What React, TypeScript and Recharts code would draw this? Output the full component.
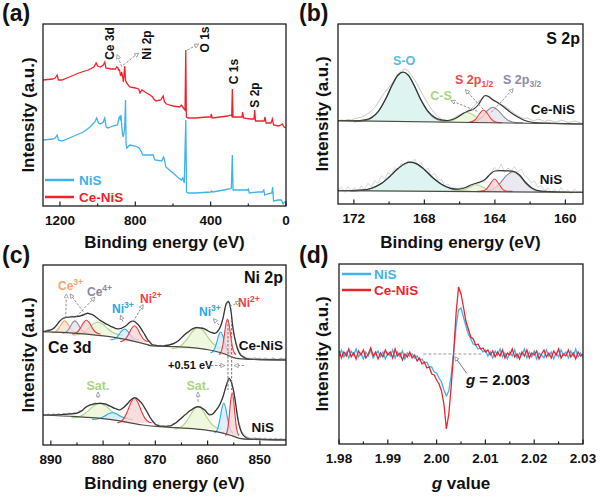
import React from "react";
import { ComposedChart, Line, Area, XAxis, YAxis, ReferenceLine } from "recharts";

const FONT = "Arial, 'Liberation Sans', Helvetica, sans-serif";
const BLUE = "#3fb2ea";
const RED = "#f0232b";
const ENV = "#333333";
const BASE = "#4d4a40";
const RAW = "#b4b4b4";

// ---------- (a) XPS survey ----------
const SURVEY_CENIS: [number, number][] = [
  [1290, 126], [1240, 127], [1225, 128], [1215, 131], [1208, 126], [1190, 126], [1150, 129], [1100, 133],
  [1050, 136], [1020, 139], [1008, 143], [1000, 140], [985, 139], [970, 141], [962, 144], [956, 138],
  [930, 137], [905, 137], [899, 139], [892, 138], [889, 136], [884, 136], [878, 130], [872, 134],
  [866, 128], [863, 124], [858, 136], [856, 140], [852, 126], [846, 123], [830, 119], [800, 118],
  [782, 117], [775, 113], [765, 116], [740, 113], [722, 111], [708, 109], [702, 107], [690, 105],
  [665, 106], [652, 110], [645, 104], [635, 102], [600, 100], [565, 99], [555, 101], [545, 98],
  [536, 96], [532, 156], [529, 89], [520, 88], [480, 88], [420, 89], [400, 89], [397, 92], [392, 88],
  [350, 89], [310, 90], [292, 91], [288, 90], [285, 117], [281, 89], [260, 89], [234, 89], [230, 94],
  [226, 88], [190, 87], [170, 87], [166, 96], [162, 85], [130, 85], [116, 85], [111, 89], [106, 83],
  [80, 83], [72, 87], [66, 81], [40, 80], [28, 81], [20, 82], [10, 79], [0, 78],
];
const SURVEY_NIS: [number, number][] = [
  [1290, 66], [1240, 67], [1225, 68], [1215, 71], [1208, 66], [1190, 65], [1150, 68], [1100, 72],
  [1076, 74], [1040, 79], [1015, 84], [1005, 88], [995, 83], [985, 82], [970, 84], [962, 88], [955, 79],
  [945, 78], [920, 80], [895, 81], [885, 89], [880, 87], [876, 91], [872, 80], [868, 72], [864, 69],
  [860, 73], [856, 80], [852, 106], [849, 62], [845, 58], [830, 61], [800, 60], [780, 58], [770, 55],
  [760, 51], [740, 51], [705, 51], [700, 48], [695, 46], [660, 45], [650, 49], [645, 46], [638, 39],
  [600, 33], [570, 28], [555, 26], [548, 28], [540, 23], [532, 86], [528, 14], [520, 13], [480, 13],
  [400, 14], [395, 15], [390, 14], [330, 16], [300, 17], [290, 18], [285, 51], [281, 16], [260, 16],
  [215, 16], [205, 16], [200, 17], [195, 13], [150, 14], [125, 14], [118, 16], [113, 11], [100, 12],
  [75, 13], [71, 19], [66, 5], [40, 6], [25, 6], [15, 2], [8, 4], [0, 4],
];
const A_MAJOR = [1200, 800, 400, 0];
const A_MINOR = [1000, 600, 200];

// ---------- (b) S 2p ----------
const B_RAW_START = 172.9;
const B_RAW_STEP = -0.189;
const B_CENIS_RAW = [
  83.3, 84, 83.5, 84.5, 84, 85.5, 86, 87, 88.5, 90.5,
  93, 96.5, 101, 106.5, 111.5, 115.5, 120, 124.5, 129, 133,
  135, 133.5, 129, 124, 118.5, 112, 106, 100.5, 95, 91,
  87.5, 85, 84, 83.5, 84.5, 86.5, 88.5, 90, 91.5, 93,
  95, 98.5, 102, 105, 108, 107.5, 105, 103.5, 101.5, 99.5,
  98, 95.5, 93, 90.5, 88, 86.5, 85.5, 86, 84, 83.5,
  85, 84, 82.5, 84, 83.5, 82, 82.5, 84, 83, 81.5,
  82, 83, 82, 81,
];
const B_NIS_RAW = [
  14, 16.7, 11.7, 17.3, 13.3, 16, 12.7, 18, 15, 20.7,
  16.7, 23.3, 20.7, 28.3, 25, 31.7, 28.3, 36.7, 33.3, 40.7,
  38.3, 43.3, 40, 45, 38.3, 41.7, 33.3, 36, 28.3, 30.7,
  23.3, 25, 18.3, 20, 16, 17.3, 14, 16.7, 15, 18.3,
  16.7, 20, 18.3, 23.3, 21.7, 28.3, 31.7, 36.7, 33.3, 40,
  31.7, 36, 33.3, 37.3, 31.7, 35, 28.3, 26, 20.7, 23.3,
  16.7, 18.3, 13.3, 16, 11.7, 15, 10.7, 16.7, 11.7, 14,
  10, 15, 11.7, 13.3,
];
const B_CENIS_SO: [number, number][] = [[172, 82.3], [171.3, 83.8], [171, 86], [170.6, 92.6], [170.2, 104.7], [169.8, 119.7], [169.5, 128.6], [169.2, 131.7], [168.9, 128.3], [168.6, 119], [168.2, 104], [167.8, 92.2], [167.4, 85.8], [167, 83.2], [166.5, 82.2]];
const B_CENIS_CS: [number, number][] = [[167.2, 81.5], [166.5, 83], [166.2, 85.6], [165.9, 89.3], [165.63, 91.8], [165.3, 89.8], [165, 86.4], [164.7, 83.5], [164.3, 81.7], [164, 81.5]];
const B_CENIS_P12: [number, number][] = [[165.5, 81.2], [165.1, 84.5], [164.9, 89.5], [164.64, 94], [164.4, 90], [164.2, 84.9], [163.9, 81.6], [163.6, 81.2]];
const B_CENIS_P32: [number, number][] = [[165.6, 81.2], [165, 83.4], [164.7, 87.7], [164.4, 93.8], [164.11, 96.7], [163.8, 93.4], [163.5, 87.4], [163.2, 83.2], [162.8, 81.4], [162.4, 81.2]];
const B_CENIS_FIT: [number, number][] = [[172.9, 83.3], [172, 83.2], [171.3, 84.5], [171, 86.5], [170.6, 93], [170.2, 105], [169.8, 120], [169.5, 129], [169.2, 132], [168.9, 128.7], [168.6, 119.5], [168.2, 104.5], [167.8, 93], [167.4, 86.5], [167, 84], [166.7, 83.5], [166.4, 84.5], [166.1, 87], [165.8, 90.5], [165.5, 93], [165.2, 95], [164.95, 99], [164.75, 104.5], [164.55, 108.5], [164.35, 107.5], [164.1, 104], [163.85, 101.5], [163.45, 96.5], [163.1, 91.5], [162.7, 87], [162.3, 83.5], [161.8, 81.5], [161, 80.8], [159, 80]];
const B_CENIS_BG: [number, number][] = [[172.9, 83.3], [159, 80]];

const B_NIS_SO: [number, number][] = [[172.2, 13], [171.6, 13.6], [171, 15.6], [170.5, 19.7], [170, 26.8], [169.5, 35.3], [169.1, 40.3], [168.78, 41.7], [168.4, 39.7], [168, 34.3], [167.5, 25.8], [167, 19.1], [166.5, 15.2], [165.9, 13.5], [165.4, 13]];
const B_NIS_CS: [number, number][] = [[166.4, 12.8], [165.7, 14.6], [165.4, 17.3], [165.06, 19.3], [164.7, 17.1], [164.4, 14.5], [164, 13], [163.7, 12.8]];
const B_NIS_P12: [number, number][] = [[165, 12.6], [164.75, 12.9], [164.5, 14.6], [164.3, 19.2], [164.02, 25], [163.75, 19.5], [163.55, 14.7], [163.3, 12.8], [163, 12.6]];
const B_NIS_P32: [number, number][] = [[165, 12.4], [164.7, 12.6], [164.3, 13.6], [164, 16.1], [163.7, 20.9], [163.35, 28.3], [162.98, 32.3], [162.6, 28.1], [162.25, 20.7], [161.9, 15.4], [161.5, 13], [161, 12.5], [160.6, 12.4]];
const B_NIS_FIT: [number, number][] = [[172.9, 13.3], [172.2, 13.3], [171.6, 13.8], [171, 15.8], [170.5, 19.9], [170, 27], [169.5, 35.5], [169.1, 40.5], [168.78, 41.9], [168.4, 39.9], [168, 34.5], [167.5, 26], [167, 19.4], [166.5, 15.6], [166.1, 14.8], [165.7, 16.2], [165.4, 18.7], [165.06, 20.8], [164.75, 22.5], [164.5, 25.5], [164.25, 30], [164, 33], [163.7, 33.3], [163.35, 33.2], [163, 32.8], [162.6, 29], [162.25, 21.5], [161.9, 16], [161.5, 13.2], [161, 12.5], [159, 11.7]];
const B_NIS_BG: [number, number][] = [[172.9, 13.3], [159, 11.7]];
const B_MAJOR = [172, 168, 164, 160];
const B_MINOR = [170, 166, 162];

// ---------- (c) Ni 2p / Ce 3d ----------
const C_RAW_START = 891.5;
const C_RAW_STEP = -0.5;
const C_CENIS_RAW = [
  113.8, 113.2, 115.3, 114.6, 117.2, 118.6, 123.1, 125.4, 126.6, 128.2,
  127.4, 128.9, 127.9, 129.3, 128.6, 130.4, 130.2, 132.3, 131, 130.8,
  128.1, 126.8, 124.1, 123.3, 120.6, 120.5, 118.1, 117.9, 116, 116.7,
  116.4, 118.6, 119.4, 122.3, 123.2, 123.9, 121, 118.9, 113.8, 110.8,
  105.1, 103.3, 99.7, 100.3, 99, 99.6, 98.6, 100.1, 99.6, 101.3,
  101.4, 103.1, 104.3, 107.7, 109.2, 112.6, 113.4, 116, 116.2, 117.8,
  116.8, 117.3, 115.6, 114.8, 112.6, 112.8, 111.6, 115, 118.1, 128,
  139.5, 143.8, 134.6, 112.5, 100.6, 93.7, 89.8, 88.3, 86.9, 86.8,
  86.4, 87.2, 86.1, 86.9, 85.8, 87, 86.2, 85.6, 87.1, 86,
  85.4, 86.8, 85.9, 86.5,
];
const C_NIS_RAW = [
  30.8, 29.4, 31.2, 29.6, 31.1, 30, 31.4, 29.8, 31.6, 30.3,
  32, 30.8, 32.3, 31.5, 34.1, 34, 37.6, 38.2, 40.6, 40.2,
  42.1, 41, 42.3, 40.7, 41.5, 39.1, 39, 36.5, 36.7, 34.8,
  36.5, 37.4, 41, 43.2, 46.2, 46.7, 47, 43.8, 41.6, 36.3,
  32.9, 27.1, 24.4, 20.3, 20.4, 18.5, 19.3, 18.2, 19.6, 19.1,
  21.7, 22, 25.4, 26.4, 29.9, 30.8, 34.3, 34.9, 37.7, 37.6,
  38.5, 36.1, 35.6, 31.6, 30.9, 30.7, 34.6, 37, 43, 48.8,
  58.9, 64.9, 64.5, 53.4, 37.2, 22.3, 13.4, 9.8, 7.9, 7,
  6.5, 7.1, 6.2, 6.9, 5.9, 6.8, 5.8, 6.6, 5.5, 6.7,
  5.6, 6.4, 5.4, 6.1,
];
const C_CENIS_FIT: [number, number][] = [[891.5, 113.3], [889.59, 116], [888.63, 121.7], [887.67, 126.7], [886.4, 128], [885.12, 128.3], [884.17, 129.3], [882.89, 131.7], [881.93, 130], [880.66, 125], [878.74, 119.3], [877.15, 116], [875.88, 118.3], [874.41, 124], [873.32, 120.7], [872.37, 113.3], [871.41, 105], [870.45, 100], [868.54, 99], [865.99, 102.7], [864.08, 111.7], [862.16, 117.3], [860.89, 116.7], [859.61, 113.3], [858.66, 111.7], [857.7, 116.7], [857.06, 126.7], [856.42, 141.7], [856.04, 143.3], [855.66, 138.3], [855.15, 116.7], [854.51, 100], [853.55, 89.3], [851.96, 85.7], [845, 85]];
const C_CENIS_BG: [number, number][] = [[891.5, 113.3], [885.1, 111.7], [878.7, 108.3], [872.4, 101.7], [870.5, 99], [866, 98.3], [859.6, 95], [857.1, 91.7], [854.5, 86.7], [852, 85.7], [845, 85]];
const C_NIS_FIT: [number, number][] = [[891.5, 30], [888, 30.5], [885.12, 31.7], [884, 34.5], [883.21, 38.3], [882, 40.8], [880.66, 41.7], [879.5, 40.8], [878.74, 39], [877.7, 36.5], [876.83, 35], [876.2, 37], [875.56, 40], [874.7, 45], [873.96, 47.3], [873.2, 45], [872.37, 40], [871.7, 34], [871.09, 28.3], [870.4, 23], [869.82, 20], [868.5, 18.6], [867.27, 19], [866, 22.5], [864.71, 28.3], [863.3, 34.5], [861.84, 38.3], [860.6, 35.3], [859.61, 30], [858.9, 31.5], [858.34, 35], [857.6, 41], [857.06, 48.3], [856.4, 60], [855.91, 66.7], [855.4, 62], [854.83, 48.3], [854.19, 25], [853.7, 15], [853.23, 10], [852.5, 7], [851.96, 6], [845, 5]];
const C_NIS_BG: [number, number][] = [[891.5, 30], [885.1, 28.3], [878.7, 25.7], [872.4, 20], [869.2, 18.3], [866, 17.3], [861.5, 15.7], [858.3, 13.3], [855.8, 10], [853.9, 6.7], [852, 5.7], [845, 5]];

const C_CENIS_CE3A: [number, number][] = [[889.75, 112.3], [889.35, 112.7], [888.79, 114.6], [888.31, 118], [887.83, 122.2], [887.35, 124.2], [886.87, 122.2], [886.39, 118], [885.91, 114.6], [885.35, 112.7], [884.95, 112.3]];
const C_CENIS_CE4: [number, number][] = [[887.8, 111.7], [887.4, 112.2], [886.84, 114.1], [886.36, 117.7], [885.88, 122], [885.4, 124.1], [884.92, 122], [884.44, 117.7], [883.96, 114.1], [883.4, 112.2], [883, 111.7]];
const C_CENIS_CE3B: [number, number][] = [[885.9, 110.9], [885.45, 111.5], [884.82, 113.5], [884.28, 117.5], [883.74, 122.4], [883.2, 125], [882.66, 122.4], [882.12, 117.5], [881.58, 113.5], [880.95, 111.5], [880.5, 110.9]];
const C_CENIS_SAT1: [number, number][] = [[885.8, 109.9], [885, 110.4], [883.88, 112.4], [882.92, 116.1], [881.96, 120.7], [881, 122.8], [880.04, 120.7], [879.08, 116.1], [878.12, 112.4], [877, 110.4], [876.2, 109.9]];
const C_CENIS_NI3A: [number, number][] = [[878.6, 105.1], [878.15, 105.5], [877.52, 107.2], [876.98, 110.4], [876.44, 114.2], [875.9, 116], [875.36, 114.2], [874.82, 110.4], [874.28, 107.2], [873.65, 105.5], [873.2, 105.1]];
const C_CENIS_NI2A: [number, number][] = [[876.7, 103.4], [876.25, 104], [875.62, 106.5], [875.08, 111.1], [874.54, 116.7], [874, 119.3], [873.46, 116.7], [872.92, 111.1], [872.38, 106.5], [871.75, 104], [871.3, 103.4]];
const C_CENIS_SAT2: [number, number][] = [[866.9, 96.2], [866.05, 96.9], [864.86, 100.3], [863.84, 106.5], [862.82, 114], [861.8, 117.5], [860.78, 114], [859.76, 106.5], [858.74, 100.3], [857.55, 96.9], [856.7, 96.2]];
const C_CENIS_NI3B: [number, number][] = [[859.45, 92.2], [859.12, 92.9], [858.67, 96.2], [858.28, 102.2], [857.89, 109.5], [857.5, 113], [857.11, 109.5], [856.72, 102.2], [856.33, 96.2], [855.88, 92.9], [855.55, 92.2]];
const C_CENIS_NI2B: [number, number][] = [[857.85, 90.4], [857.57, 91.6], [857.19, 97.1], [856.86, 107.5], [856.53, 120], [856.2, 126], [855.87, 120], [855.54, 107.5], [855.21, 97.1], [854.83, 91.6], [854.55, 90.4]];

const C_NIS_SAT1: [number, number][] = [[886.06, 27.2], [885.16, 27.6], [883.9, 29.9], [882.82, 34.2], [881.74, 39.3], [880.66, 41.7], [879.58, 39.3], [878.5, 34.2], [877.42, 29.9], [876.16, 27.6], [875.26, 27.2]];
const C_NIS_NI3A: [number, number][] = [[882.1, 25.6], [881.45, 25.8], [880.54, 26.8], [879.76, 28.8], [878.98, 31.2], [878.2, 32.3], [877.42, 31.2], [876.64, 28.8], [875.86, 26.8], [874.95, 25.8], [874.3, 25.6]];
const C_NIS_NI2A: [number, number][] = [[877.3, 22.3], [876.75, 23.1], [875.98, 26.9], [875.32, 34], [874.66, 42.6], [874, 46.7], [873.34, 42.6], [872.68, 34], [872.02, 26.9], [871.25, 23.1], [870.7, 22.3]];
const C_NIS_SAT2: [number, number][] = [[866.34, 16], [865.59, 16.8], [864.54, 20.3], [863.64, 26.8], [862.74, 34.6], [861.84, 38.3], [860.94, 34.6], [860.04, 26.8], [859.14, 20.3], [858.09, 16.8], [857.34, 16]];
const C_NIS_NI3B: [number, number][] = [[858.7, 12.3], [858.4, 13.3], [857.98, 17.9], [857.62, 26.5], [857.26, 36.8], [856.9, 41.7], [856.54, 36.8], [856.18, 26.5], [855.82, 17.9], [855.4, 13.3], [855.1, 12.3]];
const C_NIS_NI2B: [number, number][] = [[856.65, 9.5], [856.42, 10.9], [856.11, 17.6], [855.84, 30.1], [855.57, 45.2], [855.3, 52.3], [855.03, 45.2], [854.76, 30.1], [854.49, 17.6], [854.18, 10.9], [853.95, 9.5]];
const C_MAJOR = [890, 880, 870, 860, 850];
const C_MINOR = [885, 875, 865, 855];

// ---------- (d) EPR ----------
const D_START = 1.98;
const D_STEP = 0.0005;
const D_NIS = [
  88, 94, 87, 92, 86, 93, 89, 95, 87, 91,
  85, 92, 88, 94, 86, 90, 93, 87, 92, 85,
  91, 88, 94, 86, 92, 87, 93, 85, 91, 88,
  90, 86, 88, 84, 85, 81, 82, 77, 77, 72,
  71, 66, 62, 54, 48, 53, 69, 93, 118, 134,
  136, 127, 118, 110, 105, 100, 99, 95, 96, 92,
  94, 88, 92, 86, 93, 89, 95, 87, 91, 85,
  92, 88, 94, 86, 91, 89, 95, 86, 92, 87,
  93, 85, 91, 89, 86, 94, 88, 92, 85, 91,
  87, 94, 89, 92, 86, 93, 88, 95, 87, 91,
  86,
];
const D_CENIS = [
  93, 86, 92, 88, 95, 87, 91, 85, 93, 89,
  94, 86, 90, 96, 88, 92, 85, 91, 87, 94,
  89, 92, 86, 95, 88, 91, 84, 90, 87, 92,
  86, 89, 83, 86, 80, 82, 76, 77, 70, 69,
  64, 60, 53, 40, 15, 30, 58, 91, 131, 157,
  150, 137, 123, 115, 107, 105, 99, 100, 95, 96,
  92, 94, 89, 93, 87, 92, 88, 94, 86, 91,
  89, 95, 87, 90, 85, 92, 88, 94, 86, 91,
  89, 93, 85, 90, 94, 87, 91, 86, 93, 89,
  95, 86, 90, 88, 94, 87, 91, 85, 92, 88,
  90,
];
const D_MAJOR = [1.98, 1.99, 2.0, 2.01, 2.02, 2.03];
const D_MINOR = [1.985, 1.995, 2.005, 2.015, 2.025];

const pts = (a: [number, number][]) => a.map(([e, v]) => ({ e, v }));
const grid = (start: number, step: number, vals: number[]) => vals.map((v, i) => ({ e: start + step * i, v }));

function makeTick(major: number[], fmt: (v: number) => string) {
  return (props: any) => {
    const { x, y, payload } = props;
    const isMajor = major.some((m) => Math.abs(m - payload.value) < 1e-7);
    return (
      <g>
        <line x1={x} x2={x} y1={y} y2={y - (isMajor ? 4.5 : 2.5)} stroke="#222" strokeWidth={1.2} />
        {isMajor && (
          <text x={x} y={y + 19} textAnchor="middle" fontSize={13.5} fontWeight="bold" fill="#111" fontFamily={FONT}>
            {fmt(payload.value)}
          </text>
        )}
      </g>
    );
  };
}

function Panel({ frame, domain, reversed, yMax, major, minor, fmt, children }: any) {
  const [fx, fy, fw, fh] = frame;
  return (
    <div style={{ position: "absolute", left: fx - 20, top: fy - 5 }}>
      <ComposedChart width={fw + 40} height={fh + 35} margin={{ top: 5, right: 20, bottom: 0, left: 20 }}>
        <XAxis
          type="number"
          dataKey="e"
          domain={domain}
          reversed={reversed}
          allowDataOverflow
          ticks={[...major, ...minor]}
          interval={0}
          tickSize={0}
          tickMargin={0}
          axisLine={false}
          tickLine={false}
          tick={makeTick(major, fmt)}
          height={30}
        />
        <YAxis hide type="number" domain={[0, yMax]} allowDataOverflow />
        {children}
      </ComposedChart>
    </div>
  );
}

// fitted component: filled from its own base level up to the fitted curve
const comp = (key: string, base: number, a: [number, number][], stroke: string, fill: string) => (
  <Area
    key={key}
    data={pts(a)}
    dataKey="v"
    baseValue={base}
    type="monotone"
    stroke={stroke}
    strokeWidth={1.1}
    fill={fill}
    fillOpacity={0.75}
    dot={false}
    activeDot={false}
    isAnimationActive={false}
  />
);

const line = (key: string, data: any[], stroke: string, w = 1.2, type: any = "linear") => (
  <Line key={key} data={data} dataKey="v" type={type} stroke={stroke} strokeWidth={w} dot={false} activeDot={false} isAnimationActive={false} />
);

const T = ({ x, y, s = 13.5, c = "#111", a = "start", rot = false, children }: any) => (
  <text
    x={rot ? 0 : x}
    y={rot ? 0 : y}
    transform={rot ? `translate(${x},${y}) rotate(-90)` : undefined}
    fontSize={s}
    fill={c}
    textAnchor={a}
    fontWeight="bold"
    fontFamily={FONT}
  >
    {children}
  </text>
);

const Arr = ({ p, dash = true, c = "#8d8d8d" }: any) => (
  <line x1={p[0]} y1={p[1]} x2={p[2]} y2={p[3]} stroke={c} strokeWidth={1} strokeDasharray={dash ? "2.5 1.5" : undefined} markerEnd="url(#ah)" />
);

const FA = [43, 24, 243, 182];
const FB = [338, 24, 245, 180];
const FC = [43, 265, 243, 180];
const FD = [339, 264, 244, 180];

// pale component fills
const F_SO = "#d3f0ec";
const F_CS = "#eaf5d3";
const F_RED = "#f8d2d2";
const F_GRAY = "#e3e0eb";
const F_ORANGE = "#fbe0c9";
const F_BLUE = "#d2ebfa";

function Overlay() {
  const frames = [FA, FB, FC, FD];
  return (
    <svg width={600} height={497} style={{ position: "absolute", left: 0, top: 0, pointerEvents: "none" }}>
      <defs>
        <marker id="ah" viewBox="0 0 6 6" refX="5" refY="3" markerWidth="5" markerHeight="5" orient="auto">
          <path d="M0.5,0.5 L5.5,3 L0.5,5.5 Z" fill="#fff" stroke="#8d8d8d" strokeWidth="0.9" />
        </marker>
      </defs>
      {frames.map(([x, y, w, h], i) => (
        <rect key={i} x={x} y={y} width={w} height={h} fill="none" stroke="#1e1e1e" strokeWidth={1.3} />
      ))}

      {/* (a) */}
      <T x={2} y={21} s={23}>(a)</T>
      <T x={164.5} y={248} s={17} a="middle">Binding energy (eV)</T>
      <T x={34} y={115} s={17} a="middle" rot>Intensity (a.u.)</T>
      <T x={113.5} y={43.5} s={12} a="middle" rot>Ce 3d</T>
      <T x={150.5} y={45} s={12} a="middle" rot>Ni 2p</T>
      <T x={208.5} y={39.5} s={12} a="middle" rot>O 1s</T>
      <T x={237.5} y={71.5} s={12} a="middle" rot>C 1s</T>
      <T x={258.5} y={95} s={12} a="middle" rot>S 2p</T>
      <Arr p={[121.7, 66.7, 117.3, 55]} />
      <Arr p={[123.3, 65, 138.3, 53.3]} />
      <Arr p={[187.3, 50, 198.3, 44.3]} />
      <line x1={45} x2={74} y1={180} y2={180} stroke={BLUE} strokeWidth={2.5} />
      <T x={79} y={185} c={BLUE}>NiS</T>
      <line x1={45} x2={74} y1={197} y2={197} stroke={RED} strokeWidth={2.5} />
      <T x={79} y={202} c={RED}>Ce-NiS</T>

      {/* (b) */}
      <T x={299} y={21} s={23}>(b)</T>
      <T x={460.5} y={248} s={17} a="middle">Binding energy (eV)</T>
      <T x={328} y={114} s={17} a="middle" rot>Intensity (a.u.)</T>
      <T x={580} y={44} s={16} a="end">S 2p</T>
      <T x={404} y={64.5} s={12.5} a="middle" c="#55bde0">S-O</T>
      <T x={441} y={100} s={12.5} a="middle" c="#a8d67a">C-S</T>
      <T x={455} y={84} s={12.5} c="#f04848">
        S 2p<tspan fontSize={8.5} dy={3}>1/2</tspan>
      </T>
      <T x={503} y={84} s={12.5} c="#8e8aa4">
        S 2p<tspan fontSize={8.5} dy={3}>3/2</tspan>
      </T>
      <T x={553} y={114} a="middle">Ce-NiS</T>
      <T x={551} y={184} a="middle">NiS</T>
      <Arr p={[483, 109, 465.7, 90]} />
      <Arr p={[477.3, 111.3, 451.3, 100.7]} />
      <Arr p={[491.3, 112.3, 513, 89]} />

      {/* (c) */}
      <T x={2} y={263} s={23}>(c)</T>
      <T x={164.5} y={489} s={17} a="middle">Binding energy (eV)</T>
      <T x={34} y={355} s={17} a="middle" rot>Intensity (a.u.)</T>
      <T x={283} y={283} s={16} a="end">Ni 2p</T>
      <T x={48} y={353} s={16}>Ce 3d</T>
      <T x={283} y={350} a="end">Ce-NiS</T>
      <T x={274} y={432} a="end">NiS</T>
      <T x={58} y={290} s={12} c="#f5a66e">
        Ce<tspan fontSize={8.5} dy={-5}>3+</tspan>
      </T>
      <T x={87} y={296} s={12} c="#8b88a0">
        Ce<tspan fontSize={8.5} dy={-5}>4+</tspan>
      </T>
      <T x={112} y={313} s={12} c="#28a6ee">
        Ni<tspan fontSize={8.5} dy={-5}>3+</tspan>
      </T>
      <T x={140} y={303} s={12} c="#ef3d44">
        Ni<tspan fontSize={8.5} dy={-5}>2+</tspan>
      </T>
      <T x={199} y={316} s={12} c="#28a6ee">
        Ni<tspan fontSize={8.5} dy={-5}>3+</tspan>
      </T>
      <T x={238} y={307} s={12} c="#ef3d44">
        Ni<tspan fontSize={8.5} dy={-5}>2+</tspan>
      </T>
      <T x={168} y={369} s={11}>+0.51 eV</T>
      <T x={98} y={390} s={12.5} a="middle" c="#a8d581">Sat.</T>
      <T x={198} y={390} s={12.5} a="middle" c="#a8d581">Sat.</T>
      <Arr p={[65.7, 318.3, 66.3, 294.3]} />
      <Arr p={[85.7, 315, 70.3, 294.3]} />
      <Arr p={[76.3, 316.7, 94.7, 297.3]} />
      <Arr p={[123, 321.7, 120.7, 315.7]} />
      <Arr p={[133, 321.7, 143, 305]} />
      <Arr p={[219, 325, 213.7, 319]} />
      <Arr p={[229.7, 306.7, 239.7, 301.7]} />
      <Arr p={[98, 398, 98, 392.5]} />
      <Arr p={[198, 401.7, 198, 392.5]} />
      <Arr p={[207, 365.5, 224.5, 365.5]} />
      <Arr p={[244, 365.5, 234.5, 365.5]} />

      {/* (d) */}
      <T x={299} y={263} s={23}>(d)</T>
      <T x={461} y={489} s={17} a="middle">
        <tspan fontStyle="italic">g</tspan> value
      </T>
      <T x={328} y={354} s={17} a="middle" rot>Intensity (a.u.)</T>
      <line x1={342} x2={371} y1={274} y2={274} stroke={BLUE} strokeWidth={2.5} />
      <T x={374} y={279} c={BLUE}>NiS</T>
      <line x1={342} x2={371} y1={290} y2={290} stroke={RED} strokeWidth={2.5} />
      <T x={374} y={295} c={RED}>Ce-NiS</T>
      <T x={466} y={385} s={15}>
        <tspan fontStyle="italic">g</tspan> = 2.003
      </T>
      <Arr p={[466.7, 373.3, 455, 357]} dash={false} c="#7a7a7a" />
    </svg>
  );
}

export default function App() {
  const fmtInt = (v: number) => String(v);
  return (
    <div style={{ position: "fixed", left: 0, top: 0, width: 600, height: 497, background: "#fff", overflow: "hidden" }}>
      <Panel frame={FA} domain={[0, 1290]} reversed yMax={182} major={A_MAJOR} minor={A_MINOR} fmt={fmtInt}>
        {line("a-nis", pts(SURVEY_NIS), BLUE, 1.3)}
        {line("a-cenis", pts(SURVEY_CENIS), RED, 1.3)}
      </Panel>

      <Panel frame={FB} domain={[159, 172.9]} reversed yMax={180} major={B_MAJOR} minor={B_MINOR} fmt={fmtInt}>
        {comp("b1", 82.2, B_CENIS_SO, "#5c7a7a", F_SO)}
        {comp("b2", 81.5, B_CENIS_CS, "#b5d98a", F_CS)}
        {comp("b3", 81.2, B_CENIS_P32, "#8a8698", F_GRAY)}
        {comp("b4", 81.2, B_CENIS_P12, "#ef4040", F_RED)}
        {comp("b5", 13, B_NIS_SO, "#5c7a7a", F_SO)}
        {comp("b6", 12.8, B_NIS_CS, "#b5d98a", F_CS)}
        {comp("b7", 12.4, B_NIS_P32, "#8a8698", F_GRAY)}
        {comp("b8", 12.6, B_NIS_P12, "#ef4040", F_RED)}
        {line("b-raw1", grid(B_RAW_START, B_RAW_STEP, B_CENIS_RAW), "#c8c8c8", 1)}
        {line("b-raw2", grid(B_RAW_START, B_RAW_STEP, B_NIS_RAW), "#d2d2da", 0.9)}
        {line("b-fit1", pts(B_CENIS_FIT), ENV, 1.2, "monotone")}
        {line("b-fit2", pts(B_NIS_FIT), ENV, 1.2, "monotone")}
        {line("b-bg1", pts(B_CENIS_BG), BASE, 1.2)}
        {line("b-bg2", pts(B_NIS_BG), BASE, 1.2)}
      </Panel>

      <Panel frame={FC} domain={[845, 891.5]} reversed yMax={180} major={C_MAJOR} minor={C_MINOR} fmt={fmtInt}>
        {comp("c1", 109.8, C_CENIS_SAT1, "#a9d57f", F_CS)}
        {comp("c2", 112.2, C_CENIS_CE3A, "#f3a36b", F_ORANGE)}
        {comp("c3", 111.6, C_CENIS_CE4, "#8d8aa5", F_GRAY)}
        {comp("c4", 110.8, C_CENIS_CE3B, "#ee3a3f", F_RED)}
        {comp("c5", 105, C_CENIS_NI3A, "#2ea8ef", F_BLUE)}
        {comp("c6", 103.3, C_CENIS_NI2A, "#ee3a3f", F_RED)}
        {comp("c7", 96, C_CENIS_SAT2, "#a9d57f", F_CS)}
        {comp("c8", 92, C_CENIS_NI3B, "#2ea8ef", F_BLUE)}
        {comp("c9", 90, C_CENIS_NI2B, "#ee3a3f", F_RED)}
        {comp("c10", 27, C_NIS_SAT1, "#a9d57f", F_CS)}
        {comp("c11", 25.5, C_NIS_NI3A, "#2ea8ef", F_BLUE)}
        {comp("c12", 22, C_NIS_NI2A, "#ee3a3f", F_RED)}
        {comp("c13", 15.8, C_NIS_SAT2, "#a9d57f", F_CS)}
        {comp("c14", 12, C_NIS_NI3B, "#2ea8ef", F_BLUE)}
        {comp("c15", 9, C_NIS_NI2B, "#ee3a3f", F_RED)}
        {line("c-raw1", grid(C_RAW_START, C_RAW_STEP, C_CENIS_RAW), RAW, 1.1)}
        {line("c-raw2", grid(C_RAW_START, C_RAW_STEP, C_NIS_RAW), RAW, 1.1)}
        {line("c-fit1", pts(C_CENIS_FIT), ENV, 1.2, "monotone")}
        {line("c-fit2", pts(C_NIS_FIT), ENV, 1.2, "monotone")}
        {line("c-bg1", pts(C_CENIS_BG), BASE, 1.2, "monotone")}
        {line("c-bg2", pts(C_NIS_BG), BASE, 1.2, "monotone")}
        <ReferenceLine segment={[{ x: 856.1, y: 125 }, { x: 856.1, y: 55 }]} stroke="#777" strokeDasharray="2.5 1.5" />
        <ReferenceLine segment={[{ x: 855.4, y: 125 }, { x: 855.4, y: 55 }]} stroke="#777" strokeDasharray="2.5 1.5" />
      </Panel>

      <Panel frame={FD} domain={[1.98, 2.03]} reversed={false} yMax={180} major={D_MAJOR} minor={D_MINOR} fmt={(v: number) => v.toFixed(2)}>
        {line("d-nis", grid(D_START, D_STEP, D_NIS), BLUE, 1.3)}
        {line("d-cenis", grid(D_START, D_STEP, D_CENIS), RED, 1.3)}
        <ReferenceLine segment={[{ x: 1.9973, y: 90 }, { x: 2.0093, y: 90 }]} stroke="#999" strokeDasharray="3 2" />
      </Panel>

      <Overlay />
    </div>
  );
}
